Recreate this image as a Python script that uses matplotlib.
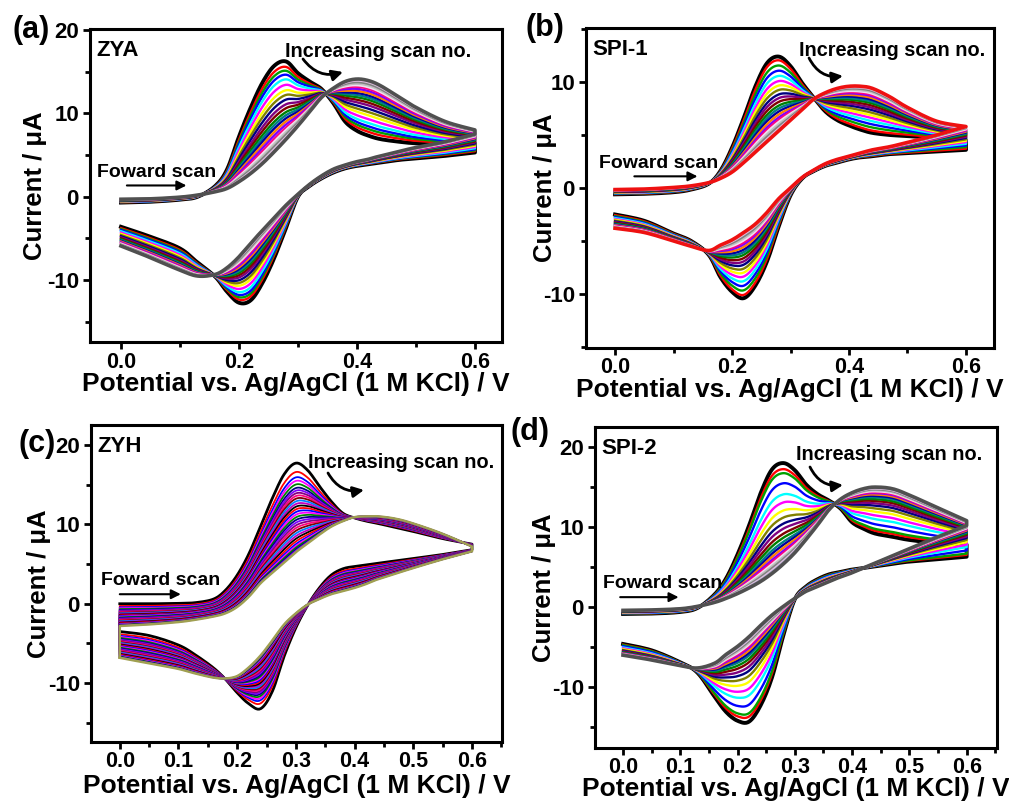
import numpy as np
import matplotlib
matplotlib.use("Agg")
import matplotlib.pyplot as plt
from matplotlib.ticker import MultipleLocator

plt.rcParams['font.family'] = ['Liberation Sans', 'DejaVu Sans']
plt.rcParams['font.weight'] = 'bold'
plt.rcParams['axes.labelweight'] = 'bold'
plt.rcParams['axes.unicode_minus'] = False

# ---------------- data ----------------
# common potential grid (V) for both sweep directions
E_GRID = [0.00, 0.05, 0.10, 0.13, 0.16, 0.18, 0.20, 0.22, 0.24, 0.26, 0.28, 0.30,
          0.32, 0.34, 0.36, 0.38, 0.40, 0.42, 0.44, 0.47, 0.50, 0.55, 0.60]

# (a) ZYA : first and last scan, forward and reverse branch currents (uA)
A_FWD_FIRST = [-0.7, -0.6, -0.35, 0.0, 1.3, 3.3, 7.2, 10.7, 13.7, 15.7, 16.2, 14.8,
               13.8, 12.9, 11.2, 9.0, 7.9, 7.3, 6.9, 6.6, 6.4, 6.3, 6.4]
A_FWD_LAST = [-0.3, -0.25, -0.05, 0.2, 0.6, 1.0, 1.8, 2.8, 4.0, 5.4, 6.9, 8.5,
              10.2, 11.9, 13.0, 13.8, 14.1, 13.9, 13.3, 12.0, 10.7, 9.0, 8.0]
A_REV_FIRST = [-3.6, -4.8, -6.2, -7.9, -9.6, -11.4, -12.7, -12.4, -10.3, -7.3, -3.7, 0.0,
               1.3, 2.2, 2.9, 3.4, 3.7, 3.9, 4.1, 4.4, 4.6, 4.9, 5.3]
A_REV_LAST = [-5.9, -7.3, -8.8, -9.5, -9.3, -8.5, -7.2, -5.6, -4.0, -2.5, -1.0, 0.3,
              1.5, 2.5, 3.3, 3.8, 4.2, 4.5, 4.9, 5.4, 5.9, 6.6, 7.5]
A_FRACTIONS = [0, 0.07, 0.12, 0.17, 0.23, 0.30, 0.37, 0.43, 0.49, 0.55, 0.60, 0.65,
               0.69, 0.73, 0.77, 0.81, 0.85, 0.88, 0.91, 0.94, 0.97, 1.0]

# (b) SPI-1
B_FWD_FIRST = [-0.6, -0.55, -0.4, -0.15, 0.4, 1.6, 3.8, 6.6, 9.6, 11.8, 12.4, 11.5,
               9.9, 8.5, 7.2, 6.4, 5.9, 5.5, 5.2, 5.0, 4.9, 4.7, 4.5]
B_FWD_LAST = [-0.15, -0.1, 0.05, 0.2, 0.5, 0.9, 1.5, 2.4, 3.4, 4.4, 5.4, 6.4,
              7.4, 8.4, 9.0, 9.4, 9.6, 9.6, 9.4, 8.6, 7.6, 6.3, 5.8]
B_REV_FIRST = [-2.5, -3.1, -4.3, -5.0, -6.3, -8.4, -9.8, -10.4, -9.2, -6.9, -3.6, -0.7,
               0.9, 1.6, 2.1, 2.4, 2.7, 2.9, 3.0, 3.2, 3.3, 3.45, 3.6]
B_REV_LAST = [-3.8, -4.2, -5.0, -5.5, -5.9, -5.4, -4.9, -4.2, -3.4, -2.3, -1.0, 0.0,
              1.0, 1.7, 2.3, 2.7, 3.0, 3.3, 3.6, 3.9, 4.3, 5.0, 5.8]
B_FRACTIONS = [0, 0.05, 0.12, 0.19, 0.26, 0.33, 0.39, 0.45, 0.51, 0.56, 0.61, 0.66,
               0.70, 0.74, 0.78, 0.82, 0.85, 0.88, 0.91, 0.94, 0.97, 1.0]

# (c) ZYH
C_FWD_FIRST = [0.0, 0.0, 0.05, 0.15, 0.6, 1.7, 3.6, 6.3, 9.8, 13.3, 16.3, 17.7,
               16.8, 14.8, 12.9, 11.4, 10.8, 10.4, 10.1, 9.6, 9.1, 8.2, 7.5]
C_FWD_LAST = [-2.8, -2.6, -2.3, -2.0, -1.6, -1.2, -0.4, 0.9, 2.6, 3.9, 5.2, 6.5,
              7.6, 8.7, 9.7, 10.4, 10.9, 11.0, 11.0, 10.7, 10.1, 8.8, 7.2]
C_REV_FIRST = [-3.5, -4.0, -5.2, -6.5, -8.1, -9.5, -11.2, -12.6, -13.2, -11.0, -6.6, -3.0,
               -0.2, 2.0, 3.6, 4.4, 4.7, 4.9, 5.1, 5.4, 5.7, 6.2, 6.8]
C_REV_LAST = [-6.8, -7.5, -8.2, -8.8, -9.3, -9.4, -9.1, -8.0, -6.5, -4.6, -2.6, -1.2,
              -0.1, 0.6, 1.2, 1.6, 2.0, 2.5, 3.1, 3.8, 4.5, 5.6, 6.6]
C_FRACTIONS = [0, 0.10, 0.16, 0.20, 0.24, 0.28, 0.31, 0.34, 0.37, 0.40, 0.43, 0.46,
               0.49, 0.52, 0.55, 0.58, 0.61, 0.64, 0.67, 0.70, 0.73, 0.76, 0.79, 0.82,
               0.85, 0.88, 0.91, 0.93, 0.95, 0.97, 0.985, 1.0]

# (d) SPI-2
D_FWD_FIRST = [-0.85, -0.8, -0.6, -0.1, 1.6, 3.6, 6.6, 10.2, 14.2, 17.2, 18.0, 17.1,
               15.3, 14.1, 13.3, 12.3, 10.6, 9.8, 9.2, 8.8, 8.4, 8.0, 7.8]
D_FWD_LAST = [-0.4, -0.35, -0.2, 0.1, 0.6, 1.1, 1.7, 2.4, 3.2, 4.2, 5.4, 6.8,
              8.5, 10.3, 12.2, 13.5, 14.3, 14.8, 15.0, 14.8, 14.0, 12.4, 10.8]
D_REV_FIRST = [-4.6, -5.4, -6.9, -8.2, -11.2, -13.1, -14.2, -14.3, -12.3, -8.8, -3.5, 1.0,
               2.6, 3.5, 4.1, 4.4, 4.7, 4.9, 5.1, 5.4, 5.7, 6.0, 6.3]
D_REV_LAST = [-6.0, -6.6, -7.3, -7.6, -7.0, -5.9, -4.9, -3.7, -2.3, -1.0, 0.1, 1.1,
              2.0, 2.6, 3.2, 3.8, 4.3, 4.9, 5.5, 6.4, 7.3, 8.8, 10.2]
D_FRACTIONS = [0, 0.06, 0.10, 0.20, 0.31, 0.39, 0.47, 0.54, 0.60, 0.65, 0.70, 0.74,
               0.78, 0.81, 0.84, 0.87, 0.89, 0.91, 0.93, 0.95, 0.97, 0.985, 1.0]

PANEL_LABELS = ["(a)", "(b)", "(c)", "(d)"]
SAMPLE_NAMES = ["ZYA", "SPI-1", "ZYH", "SPI-2"]

# Origin default colour increment list
ORIGIN_COLORS = ['#000000', '#ff0000', '#00a000', '#0000ff', '#00ffff', '#ff00ff',
                 '#ffff00', '#808000', '#000080', '#800080', '#800000', '#008000',
                 '#008080', '#0000a0', '#ff8000', '#8000ff', '#ff0080', '#f0e0f0',
                 '#c0c0c0', '#808080', '#e0c0e0', '#a0a0c0', '#c080a0', '#404040']
ZYH_COLORS = ['#000000', '#ff0000', '#0000ff', '#ff00ff', '#008000', '#000080',
              '#8000ff', '#800080', '#ff0080', '#800000', '#0080ff', '#c000c0']


def smooth(x, y, n=8):
    P = np.column_stack([x, y]).astype(float)
    P = np.vstack([P[0], P, P[-1]])
    out = []
    t = np.linspace(0, 1, n, endpoint=False)[:, None]
    for i in range(1, len(P) - 2):
        p0, p1, p2, p3 = P[i - 1], P[i], P[i + 1], P[i + 2]
        seg = 0.5 * (2 * p1 + (-p0 + p2) * t + (2 * p0 - 5 * p1 + 4 * p2 - p3) * t ** 2
                     + (-p0 + 3 * p1 - 3 * p2 + p3) * t ** 3)
        out.append(seg)
    out.append(P[-2][None])
    S = np.vstack(out)
    return S[:, 0], S[:, 1]


W, H = 1009, 802
fig = plt.figure(figsize=(W / 100, H / 100), dpi=100)
ax_pos = [[0.0892, 0.5736, 0.4083, 0.3903],
          [0.5808, 0.5661, 0.4044, 0.3990],
          [0.0902, 0.0748, 0.4073, 0.3953],
          [0.5897, 0.0673, 0.3984, 0.4002]]
xlims = [(-0.0525, 0.6458), (-0.0496, 0.648), (-0.049, 0.651), (-0.049, 0.653)]
ylims = [(-17.4, 20.1), (-15.1, 15.1), (-17.4, 22.5), (-17.6, 22.5)]
panels = [
    (A_FWD_FIRST, A_FWD_LAST, A_REV_FIRST, A_REV_LAST, A_FRACTIONS),
    (B_FWD_FIRST, B_FWD_LAST, B_REV_FIRST, B_REV_LAST, B_FRACTIONS),
    (C_FWD_FIRST, C_FWD_LAST, C_REV_FIRST, C_REV_LAST, C_FRACTIONS),
    (D_FWD_FIRST, D_FWD_LAST, D_REV_FIRST, D_REV_LAST, D_FRACTIONS),
]
last_colors = ['#505050', '#ee1111', '#a0a050', '#505050']
# text placement (axes fraction)
inc_pos = [(0.473, 0.957), (0.522, 0.958), (0.527, 0.911), (0.50, 0.943)]
fwd_txt = [(0.016, 0.54), (0.033, 0.578), (0.024, 0.511), (0.02, 0.512)]
fwd_arrow = [((0.01, 1.35), (0.111, 1.35)), ((0.033, 1.1), (0.141, 1.1)),
             ((0.0, 1.2), (0.104, 1.2)), ((-0.005, 1.25), (0.097, 1.25))]
curved = [((303, 59), (343, 72)), ((809, 58), (843, 76)),
          ((328, 473), (364, 490)), ((810, 467), (843, 485))]
label_xy = [(31, 30), (545, 28), (37, 444), (530, 432)]
ylab_x = [-0.105, -0.072, -0.097, -0.097]
xlab_y = [-0.096, -0.093, -0.101, -0.089]
xtick_pad = [2.0, 1.5, 1.5, 1.5]

E = np.array(E_GRID)
for k in range(4):
    ax = fig.add_axes(ax_pos[k])
    ff, fl, rf, rl = [np.array(v, float) for v in panels[k][:4]]
    fracs = panels[k][4]
    ns = len(fracs)
    prev_rev_end = None
    for j, f in enumerate(fracs):
        fwd = (1 - f) * ff + f * fl
        rev = (1 - f) * rf + f * rl
        xf, yf = smooth(E, fwd)
        xr, yr = smooth(E[::-1], rev[::-1])
        xs = np.concatenate([xf, xr])
        ys = np.concatenate([yf, yr])
        if k == 2 and prev_rev_end is not None:
            xs = np.concatenate([[0.0], xs])
            ys = np.concatenate([[prev_rev_end], ys])
        prev_rev_end = rev[0]
        if j == ns - 1:
            col = last_colors[k]
            lw = 1.8 if k == 2 else 2.6
        elif k == 2:
            col = ZYH_COLORS[j % len(ZYH_COLORS)]
            lw = 1.3 if j > 0 else 2.0
        else:
            col = ORIGIN_COLORS[j % 24]
            lw = 1.7 if j > 0 else 2.8
        ax.plot(xs, ys, color=col, lw=lw, solid_joinstyle='round', zorder=2)

    ax.set_xlim(*xlims[k])
    ax.set_ylim(*ylims[k])
    if k < 2:
        ax.xaxis.set_major_locator(MultipleLocator(0.2))
        ax.xaxis.set_minor_locator(MultipleLocator(0.1))
    else:
        ax.xaxis.set_major_locator(MultipleLocator(0.1))
        ax.xaxis.set_minor_locator(MultipleLocator(0.05))
    ax.yaxis.set_major_locator(MultipleLocator(10))
    ax.yaxis.set_minor_locator(MultipleLocator(5))
    ax.xaxis.set_major_formatter(plt.FuncFormatter(lambda v, p: f"{v:.1f}"))
    ax.tick_params(which='major', direction='out', length=5, width=2, labelsize=16, pad=3)
    ax.tick_params(axis='x', which='major', labelsize=15.5, pad=xtick_pad[k])
    ax.tick_params(which='minor', direction='out', length=3.5, width=2)
    for s in ax.spines.values():
        s.set_linewidth(2.2)
    ax.set_xlabel("Potential vs. Ag/AgCl (1 M KCl) / V", fontsize=19, fontweight='bold')
    ax.set_ylabel("Current / \u03bcA", fontsize=18.5, fontweight='bold')
    ax.yaxis.set_label_coords(ylab_x[k], 0.5)
    ax.xaxis.set_label_coords(0.5, xlab_y[k])

    ax.text(0.016, 0.965, SAMPLE_NAMES[k], transform=ax.transAxes, fontsize=16,
            fontweight='bold', va='top', ha='left')
    ax.text(inc_pos[k][0], inc_pos[k][1], "Increasing scan no.", transform=ax.transAxes,
            fontsize=14.3, fontweight='bold', va='top', ha='left')
    ax.text(fwd_txt[k][0], fwd_txt[k][1], "Foward scan", transform=ax.transAxes,
            fontsize=14, fontweight='bold', va='center', ha='left')
    (x0, y0), (x1, y1) = fwd_arrow[k]
    ax.annotate("", xy=(x1, y1), xytext=(x0, y0),
                arrowprops=dict(arrowstyle='-|>', color='black', lw=1.5,
                                mutation_scale=14, shrinkA=0, shrinkB=0))
    (p0, p1) = curved[k]
    ax.annotate("", xy=(p1[0] / W, 1 - p1[1] / H), xytext=(p0[0] / W, 1 - p0[1] / H),
                xycoords='figure fraction', textcoords='figure fraction',
                arrowprops=dict(arrowstyle='-|>', color='black', lw=2,
                                mutation_scale=16, shrinkA=0, shrinkB=0,
                                connectionstyle='arc3,rad=0.35'))
    fig.text(label_xy[k][0] / W, 1 - label_xy[k][1] / H, PANEL_LABELS[k],
             fontsize=22, fontweight='bold', ha='center', va='center')

fig.savefig("out.png", dpi=100)
